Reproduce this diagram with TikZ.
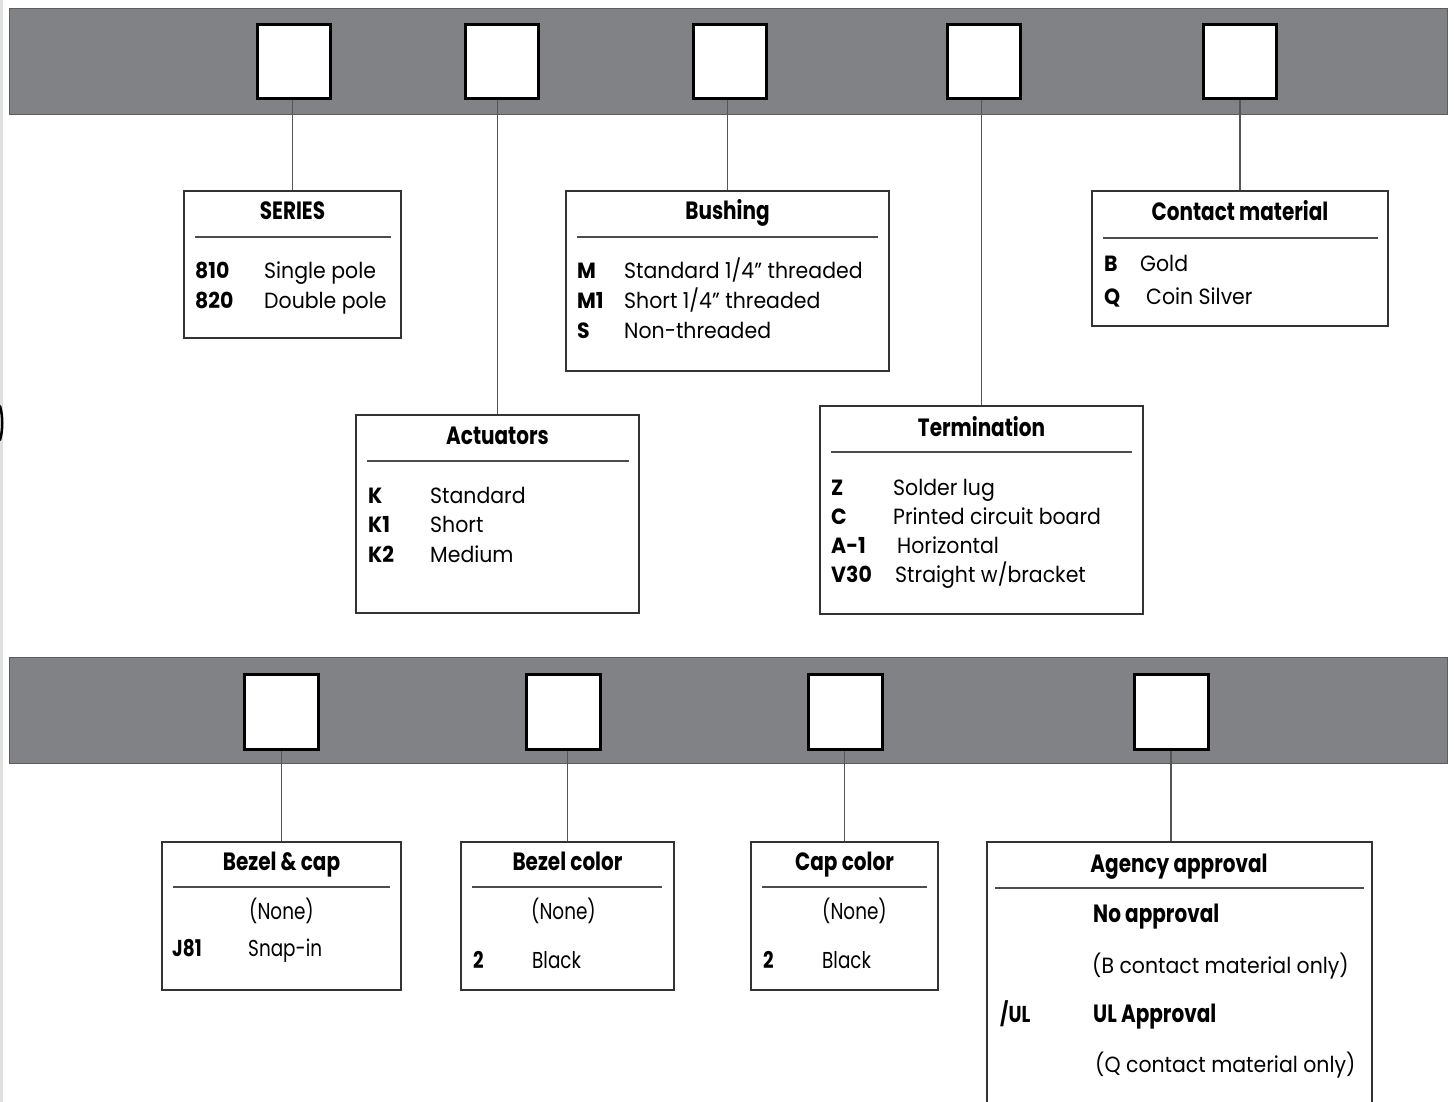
\documentclass[tikz,border=0pt]{standalone}
\usepackage{fontspec}
\setmainfont{Poppins}[FakeStretch=0.93]
\newfontfamily\condfont{Poppins}[FakeStretch=0.80]
\usepackage{tikz}
\usetikzlibrary{positioning}
\definecolor{bargray}{RGB}{128,130,133}
\definecolor{bardark}{RGB}{92,93,95}
\definecolor{linegray}{RGB}{85,85,85}
\tikzset{>=latex}
\tikzstyle{graybar} = [rectangle, fill=bargray, draw=bardark, line width=1pt, inner sep=0]
\tikzstyle{slot} = [rectangle, fill=white, draw=black, line width=3pt, inner sep=0, minimum width=73, minimum height=74]
\tikzstyle{card} = [rectangle, draw=black!80, line width=1.3pt, inner sep=0]
\tikzstyle{hrule} = [draw=black!70, line width=1.3pt]
\tikzstyle{wire} = [draw=linegray, line width=1.4pt]
\tikzstyle{headtxt} = [inner sep=0, anchor=base, font=\condfont\bfseries\fontsize{25}{30}\selectfont]
\tikzstyle{codetxt} = [inner sep=0, anchor=base west, font=\bfseries\fontsize{22}{26}\selectfont]
\tikzstyle{desctxt} = [inner sep=0, anchor=base west, font=\fontsize{22}{26}\selectfont]
\tikzstyle{ccodetxt} = [inner sep=0, anchor=base west, font=\condfont\bfseries\fontsize{23}{26}\selectfont]
\tikzstyle{cdesctxt} = [inner sep=0, anchor=base west, font=\condfont\fontsize{23}{26}\selectfont]
\tikzstyle{cheadtxt} = [inner sep=0, anchor=base west, font=\condfont\bfseries\fontsize{25}{30}\selectfont]

\begin{document}
\begin{tikzpicture}[x=1pt, y=-1pt]
\useasboundingbox (0,0) rectangle (1454,1102);
\clip (0,0) rectangle (1454,1102);
\fill [white] (0,0) rectangle (1454,1102);
\fill [black!12] (0,0) rectangle (2.5,1102);
\draw [line width=2.5pt, line cap=round] (0,406) .. controls (3,416) and (3,430) .. (0,440);

% upper code row
\node [graybar, minimum width=1438, minimum height=106] (T) at (728,62) {};
\node [slot] (a1) at (293.5,62) {};
\node [slot] (a2) at (502,62) {};
\node [slot] (a3) at (730,62) {};
\node [slot] (a4) at (983.5,62) {};
\node [slot] (a5) at (1240,62) {};

\node [card, minimum width=217, minimum height=147] (S) at (292.5,264.5) {};
\node [card, minimum width=283, minimum height=198] (K) at (497.5,514) {};
\node [card, minimum width=323, minimum height=180] (M) at (727.5,281) {};
\node [card, minimum width=323, minimum height=208] (Z) at (981.5,510) {};
\node [card, minimum width=296, minimum height=135] (Q) at (1240,258.5) {};

\draw [wire] (S.north |- a1.south) -- (S.north);
\draw [wire] (K.north |- a2.south) -- (K.north);
\draw [wire] (M.north |- a3.south) -- (M.north);
\draw [wire] (Z.north |- a4.south) -- (Z.north);
\draw [wire] (Q.north |- a5.south) -- (Q.north);

% series
\node [headtxt] (S0) at (292.5,220) {SERIES};
\draw [hrule] (195,237) -- (391,237);
\node [codetxt] (S1) at (195,279) {810};
\node [desctxt] (S1d) at (264,279) {Single pole};
\node [codetxt] (S2) at (195,308) {820};
\node [desctxt] (S2d) at (264,308) {Double pole};

% actuators
\node [headtxt] (K0) at (497.5,444) {Actuators};
\draw [hrule] (367,461) -- (629,461);
\node [codetxt] (K1) at (368,503) {K};
\node [desctxt] (K1d) at (430,503) {Standard};
\node [codetxt] (K2) at (368,532) {K1};
\node [desctxt] (K2d) at (430,532) {Short};
\node [codetxt] (K3) at (368,562) {K2};
\node [desctxt] (K3d) at (430,562) {Medium};

% bushing
\node [headtxt] (M0) at (727.5,220) {Bushing};
\draw [hrule] (577,237) -- (878,237);
\node [codetxt] (M1) at (577,279) {M};
\node [desctxt] (M1d) at (624,279) {Standard 1/4” threaded};
\node [codetxt] (M2) at (577,308) {M1};
\node [desctxt] (M2d) at (624,308) {Short 1/4” threaded};
\node [codetxt] (M3) at (577,338) {S};
\node [desctxt] (M3d) at (624,338) {Non-threaded};

% termination
\node [headtxt] (Z0) at (981.5,436) {Termination};
\draw [hrule] (831,452) -- (1132,452);
\node [codetxt] (Z1) at (831,495) {Z};
\node [desctxt] (Z1d) at (893,495) {Solder lug};
\node [codetxt] (Z2) at (831,524) {C};
\node [desctxt] (Z2d) at (893,524) {Printed circuit board};
\node [codetxt] (Z3) at (831,553) {A-1};
\node [desctxt] (Z3d) at (897,553) {Horizontal};
\node [codetxt] (Z4) at (831,582) {V30};
\node [desctxt] (Z4d) at (895,582) {Straight w/bracket};

% contact material
\node [headtxt] (Q0) at (1240,221) {Contact material};
\draw [hrule] (1103,238) -- (1378,238);
\node [codetxt] (Q1) at (1104,271) {B};
\node [desctxt] (Q1d) at (1140,271) {Gold};
\node [codetxt] (Q2) at (1104,304) {Q};
\node [desctxt] (Q2d) at (1146,304) {Coin Silver};

% lower code row
\node [graybar, minimum width=1438, minimum height=106] (B) at (728,710) {};
\node [slot, minimum width=74, minimum height=75] (b1) at (281,711.5) {};
\node [slot, minimum width=74, minimum height=75] (b2) at (563,711.5) {};
\node [slot, minimum width=74, minimum height=75] (b3) at (845,711.5) {};
\node [slot, minimum width=74, minimum height=75] (b4) at (1171,711.5) {};

\node [card, minimum width=239, minimum height=148] (J) at (281.5,916) {};
\node [card, minimum width=213, minimum height=148] (C) at (567.5,916) {};
\node [card, minimum width=187, minimum height=148] (P) at (844.5,916) {};
\node [card, minimum width=385, minimum height=288] (U) at (1179.5,986) {};

\draw [wire] (J.north |- b1.south) -- (J.north);
\draw [wire] (C.north |- b2.south) -- (C.north);
\draw [wire] (P.north |- b3.south) -- (P.north);
\draw [wire] (b4.south) -- (b4.south |- U.north);

% bezel & cap
\node [headtxt] (J0) at (281.5,870) {Bezel \& cap};
\draw [hrule] (173,887) -- (390,887);
\node [cdesctxt] (J1d) at (249,919) {(None)};
\node [ccodetxt] (J2) at (172,956) {J81};
\node [cdesctxt] (J2d) at (248,956) {Snap-in};

% bezel color
\node [headtxt] (C0) at (567.5,870) {Bezel color};
\draw [hrule] (472,887) -- (662,887);
\node [cdesctxt] (C1d) at (531,919) {(None)};
\node [ccodetxt] (C2) at (473,968) {2};
\node [cdesctxt] (C2d) at (532,968) {Black};

% cap color
\node [headtxt] (P0) at (844.5,870) {Cap color};
\draw [hrule] (762,887) -- (927,887);
\node [cdesctxt] (P1d) at (822,919) {(None)};
\node [ccodetxt] (P2) at (763,968) {2};
\node [cdesctxt] (P2d) at (822,968) {Black};

% agency approval
\node [headtxt] (U0) at (1179,872) {Agency approval};
\draw [hrule] (995,888) -- (1364,888);
\node [cheadtxt] (U1) at (1093,922) {No approval};
\node [desctxt] (U1d) at (1092,973) {(B contact material only)};
\node [ccodetxt] (U2) at (1000,1022) {/UL};
\node [cheadtxt] (U2d) at (1093,1022) {UL Approval};
\node [desctxt] (U2e) at (1095,1072) {(Q contact material only)};
\end{tikzpicture}
\end{document}
